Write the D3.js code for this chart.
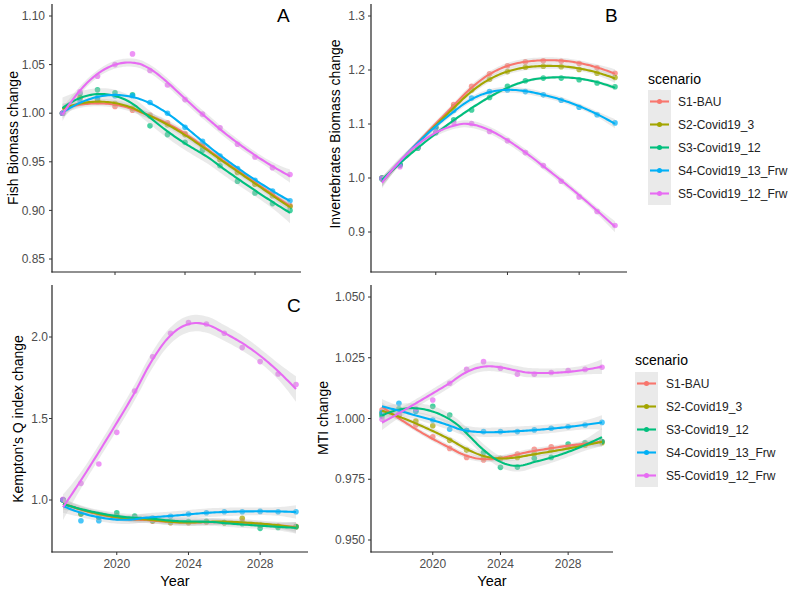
<!DOCTYPE html>
<html><head><meta charset="utf-8">
<script src="https://cdn.jsdelivr.net/npm/d3@7"></script>
<style>
body{margin:0;background:#fff}
svg{display:block;font-family:"Liberation Sans",Arial,Helvetica,sans-serif}
</style>
</head><body>
<svg id="chart" width="790" height="590"></svg>
<script>
// ---------------- data ----------------
const years = [2017,2018,2019,2020,2021,2022,2023,2024,2025,2026,2027,2028,2029,2030];
const scenarios = ["S1-BAU","S2-Covid19_3","S3-Covid19_12","S4-Covid19_13_Frw","S5-Covid19_12_Frw"];
const colors = ["#F8766D","#A3A500","#00BF7D","#00B0F6","#E76BF3"];
const xTicks = [2020,2024,2028];

const fishTicks = [0.85,0.90,0.95,1.00,1.05,1.10];
const fishS1 = [1.000,1.015,1.012,1.007,1.003,0.998,0.990,0.979,0.967,0.953,0.940,0.928,0.917,0.905];
const fishS2 = [1.000,1.016,1.014,1.010,1.005,0.997,0.988,0.978,0.966,0.952,0.939,0.927,0.915,0.904];
const fishS3 = [1.000,1.020,1.024,1.021,1.019,0.987,0.978,0.970,0.962,0.946,0.930,0.918,0.907,0.900];
const fishS4 = [1.000,1.012,1.016,1.018,1.018,1.011,1.000,0.9855,0.971,0.956,0.943,0.931,0.920,0.910];
const fishS5 = [1.000,1.022,1.038,1.050,1.061,1.044,1.029,1.014,0.999,0.985,0.968,0.955,0.944,0.937];

const invTicks = [0.9,1.0,1.1,1.2,1.3];
const invS1 = [1.000,1.025,1.058,1.095,1.136,1.170,1.193,1.208,1.215,1.217,1.216,1.212,1.204,1.194];
const invS2 = [1.000,1.024,1.057,1.093,1.132,1.163,1.183,1.197,1.205,1.207,1.206,1.201,1.194,1.186];
const invS3 = [0.998,1.025,1.055,1.084,1.108,1.126,1.149,1.170,1.180,1.185,1.185,1.182,1.176,1.169];
const invS4 = [1.000,1.024,1.058,1.093,1.125,1.148,1.160,1.163,1.160,1.154,1.144,1.131,1.117,1.102];
const invS5 = [0.999,1.021,1.057,1.085,1.103,1.101,1.086,1.069,1.047,1.023,0.994,0.965,0.938,0.912];

const kemTicks = [1.0,1.5,2.0];
const kemS1 = [1.000,0.915,0.895,0.900,0.890,0.870,0.861,0.861,0.865,0.862,0.870,0.845,0.840,0.838];
const kemS2 = [1.000,0.915,0.895,0.905,0.895,0.872,0.862,0.862,0.866,0.860,0.888,0.845,0.838,0.836];
const kemS3 = [1.000,0.915,0.895,0.922,0.902,0.875,0.870,0.868,0.870,0.862,0.855,0.826,0.832,0.836];
const kemS4 = [1.000,0.873,0.873,0.890,0.890,0.890,0.900,0.914,0.922,0.928,0.928,0.930,0.928,0.928];
const kemS5 = [1.004,1.102,1.221,1.415,1.669,1.879,2.023,2.088,2.080,2.023,1.935,1.849,1.773,1.709];

const mtiTicks = [0.950,0.975,1.000,1.025,1.050];
const mtiS1 = [1.0035,1.0010,0.9973,0.9925,0.9877,0.9840,0.9829,0.9835,0.9854,0.9873,0.9884,0.9885,0.9895,0.9905];
const mtiS2 = [1.0020,1.0015,0.9990,0.9970,0.9910,0.9870,0.9840,0.9835,0.9840,0.9855,0.9870,0.9885,0.9890,0.9900];
const mtiS3 = [1.0010,1.0040,1.0030,1.0050,1.0014,0.9950,0.9860,0.9799,0.9800,0.9836,0.9840,0.9895,0.9900,0.9905];
const mtiS4 = [1.0024,1.0063,1.0031,0.9994,0.9956,0.9950,0.9946,0.9946,0.9946,0.9953,0.9960,0.9966,0.9973,0.9984];
const mtiS5 = [0.9997,1.0020,1.0040,1.0076,1.0145,1.0202,1.0234,1.0207,1.0182,1.0182,1.0189,1.0197,1.0202,1.0211];

// ---------------- loess (degree 2, tricube) ----------------
function inv3(m){
  const [a,b,c]=m[0],[d,e,f]=m[1],[g,h,i]=m[2];
  const A=e*i-f*h,B=-(d*i-f*g),C=d*h-e*g;
  const det=a*A+b*B+c*C;
  return [[A/det,-(b*i-c*h)/det,(b*f-c*e)/det],
          [B/det,(a*i-c*g)/det,-(a*f-c*d)/det],
          [C/det,-(a*h-b*g)/det,(a*e-b*d)/det]];
}
function loess(xs, ys, span, evalXs, tq){
  const n=xs.length, q=Math.floor(n*span);
  function row(x0){
    const d=xs.map(x=>Math.abs(x-x0));
    const s=d.slice().sort((a,b)=>a-b);
    const h=(q<n?(s[q-1]+s[q])/2:s[q-1])*Math.max(1,span);
    const w=d.map(v=>{const u=v/h;return u<1?Math.pow(1-u*u*u,3):0;});
    const V=xs.map(x=>{const t=x-x0;return [1,t,t*t];});
    const S=[[0,0,0],[0,0,0],[0,0,0]];
    V.forEach((v,k)=>{for(let a=0;a<3;a++)for(let b=0;b<3;b++)S[a][b]+=w[k]*v[a]*v[b];});
    const I=inv3(S);
    return V.map((v,k)=>w[k]*(I[0][0]*v[0]+I[0][1]*v[1]+I[0][2]*v[2]));
  }
  const L=xs.map(row);
  const fit=L.map(r=>d3.sum(r,(l,k)=>l*ys[k]));
  const rss=d3.sum(ys,(y,k)=>(y-fit[k])**2);
  let delta1=0;
  for(let i=0;i<n;i++)for(let j=0;j<n;j++){const m=(i===j?1:0)-L[i][j];delta1+=m*m;}
  const sigma=Math.sqrt(rss/delta1);
  return evalXs.map(x0=>{
    const r=row(x0);
    const y=d3.sum(r,(l,k)=>l*ys[k]);
    const se=sigma*Math.sqrt(d3.sum(r,l=>l*l));
    return {x:x0,y:y,lo:y-tq*se,hi:y+tq*se};
  });
}

// ---------------- layout ----------------
const svg=d3.select("#chart");
const panels=[
  {series:[fishS1,fishS2,fishS3,fishS4,fishS5], ticks:fishTicks, fmt:".2f", title:"Fish Biomass change",
   box:{l:52,r:301,t:4,b:272}, xr:[62.5,290], yd:[0.85,1.10], yr:[259,16], xLabels:false,
   titleX:18, titleY:138, labelGap:7, letter:"A", letterX:277, letterY:22},
  {series:[invS1,invS2,invS3,invS4,invS5], ticks:invTicks, fmt:".1f", title:"Invertebrates Biomass change",
   box:{l:371,r:627,t:4,b:272}, xr:[382,615], yd:[0.9,1.3], yr:[232,16], xLabels:false,
   titleX:340, titleY:134, labelGap:6, letter:"B", letterX:605, letterY:22},
  {series:[kemS1,kemS2,kemS3,kemS4,kemS5], ticks:kemTicks, fmt:".1f", title:"Kempton's Q index change",
   box:{l:52,r:308,t:285,b:552}, xr:[63,296], yd:[1.0,2.0], yr:[500,337], xLabels:true,
   titleX:23, titleY:419, labelGap:4, letter:"C", letterX:287, letterY:312},
  {series:[mtiS1,mtiS2,mtiS3,mtiS4,mtiS5], ticks:mtiTicks, fmt:".3f", title:"MTI change",
   box:{l:371,r:613,t:285,b:552}, xr:[382,602], yd:[0.95,1.05], yr:[540,297], xLabels:true,
   titleX:328, titleY:418, labelGap:6, letter:null}
];

const bandFill="#bdbdbd", bandOpacity=0.32;
const grid=d3.range(0,121).map(i=>2017+13*i/120);

panels.forEach((p,pi)=>{
  const x=d3.scaleLinear().domain([years[0],years[years.length-1]]).range(p.xr);
  const y=d3.scaleLinear().domain(p.yd).range(p.yr);
  const g=svg.append("g");
  const clipId="clip"+pi;
  svg.append("clipPath").attr("id",clipId).append("rect")
    .attr("x",p.box.l).attr("y",p.box.t).attr("width",p.box.r-p.box.l).attr("height",p.box.b-p.box.t);
  const plot=g.append("g").attr("clip-path",`url(#${clipId})`);

  const fits=p.series.map(s=>loess(years,s,0.75,grid,2.26));

  p.series.forEach((s,si)=>{
    plot.append("g").selectAll("circle").data(s).join("circle")
      .attr("cx",(d,k)=>x(years[k])).attr("cy",d=>y(d)).attr("r",2.8)
      .attr("fill",colors[si]).attr("fill-opacity",0.72);
  });
  fits.forEach(f=>{
    plot.append("path").datum(f)
      .attr("d",d3.area().x(d=>x(d.x)).y0(d=>y(d.lo)).y1(d=>y(d.hi)))
      .attr("fill",bandFill).attr("fill-opacity",bandOpacity);
  });
  fits.forEach((f,si)=>{
    plot.append("path").datum(f)
      .attr("d",d3.line().x(d=>x(d.x)).y(d=>y(d.y)))
      .attr("fill","none").attr("stroke",colors[si]).attr("stroke-width",2.1);
  });

  const axColor="#222";
  g.append("line").attr("x1",p.box.l).attr("x2",p.box.l).attr("y1",p.box.t).attr("y2",p.box.b+0.6)
    .attr("stroke",axColor).attr("stroke-width",1.2);
  g.append("line").attr("x1",p.box.l-0.6).attr("x2",p.box.r).attr("y1",p.box.b).attr("y2",p.box.b)
    .attr("stroke",axColor).attr("stroke-width",1.2);
  p.ticks.forEach(t=>{
    g.append("line").attr("x1",p.box.l-3).attr("x2",p.box.l).attr("y1",y(t)).attr("y2",y(t))
      .attr("stroke","#333").attr("stroke-width",1);
    g.append("text").attr("x",p.box.l-p.labelGap).attr("y",y(t)).attr("dy","0.35em")
      .attr("text-anchor","end").attr("font-size",12).attr("fill","#4d4d4d")
      .text(d3.format(p.fmt)(t));
  });
  xTicks.forEach(t=>{
    g.append("line").attr("x1",x(t)).attr("x2",x(t)).attr("y1",p.box.b).attr("y2",p.box.b+3)
      .attr("stroke","#333").attr("stroke-width",1);
    if(p.xLabels){
      g.append("text").attr("x",x(t)).attr("y",568).attr("text-anchor","middle")
        .attr("font-size",12).attr("fill","#4d4d4d").text(t);
    }
  });
  if(p.xLabels){
    g.append("text").attr("x",(p.box.l+p.box.r)/2+(pi===2?-5:0)).attr("y",586).attr("text-anchor","middle")
      .attr("font-size",14.5).attr("fill","#000").text("Year");
  }
  g.append("text").attr("transform",`translate(${p.titleX},${p.titleY}) rotate(-90)`)
    .attr("text-anchor","middle").attr("font-size",14).attr("fill","#000").text(p.title);
  if(p.letter){
    g.append("text").attr("x",p.letterX).attr("y",p.letterY).attr("font-size",19)
      .attr("fill","#000").text(p.letter);
  }
});

function legend(lx, titleY, keyTop, textX){
  const g=svg.append("g");
  g.append("text").attr("x",lx).attr("y",titleY).attr("font-size",14).attr("fill","#000").text("scenario");
  const kh=23, kw=23;
  scenarios.forEach((s,i)=>{
    const cy=keyTop+kh*i+kh/2;
    g.append("rect").attr("x",lx).attr("y",keyTop+kh*i).attr("width",kw).attr("height",kh)
      .attr("fill",bandFill).attr("fill-opacity",bandOpacity);
    g.append("line").attr("x1",lx+2).attr("x2",lx+kw-2).attr("y1",cy).attr("y2",cy)
      .attr("stroke",colors[i]).attr("stroke-width",2.1);
    g.append("circle").attr("cx",lx+kw/2).attr("cy",cy).attr("r",2.5).attr("fill",colors[i]);
    g.append("text").attr("x",textX).attr("y",cy).attr("dy","0.35em").attr("font-size",12)
      .attr("fill","#222").text(s);
  });
}
legend(648,84,90,678);
legend(635,365,372,666);
</script>
</body></html>
